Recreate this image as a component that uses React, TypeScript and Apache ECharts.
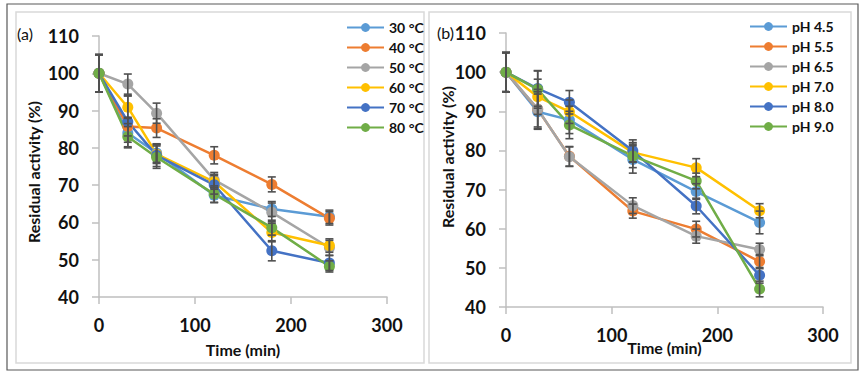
import React, { useEffect, useRef } from "react";
import * as echarts from "echarts";

const times = [0, 30, 60, 120, 180, 240];

const tempNames = ["30 °C", "40 °C", "50 °C", "60 °C", "70 °C", "80 °C"];
const tempValues = [
  [100, 84, 78.6, 67.3, 63.6, 61.5],
  [100, 85.7, 85.3, 78, 70.2, 61.1],
  [100, 97.1, 89.3, 71.4, 62.7, 53.2],
  [100, 90.9, 78.3, 70.9, 57.3, 53.8],
  [100, 87, 78, 70.1, 52.4, 49.1],
  [100, 83, 77.5, 67.6, 58.6, 48.2],
];
const tempErrors = [
  [5, 2.5, 2.5, 2, 2, 1.8],
  [5, 2.5, 2.5, 2.3, 2, 1.8],
  [5, 2.7, 2.7, 2, 2.5, 2],
  [5, 3, 2.5, 2, 2.5, 1.8],
  [5, 7, 3, 2.5, 2.7, 2],
  [5, 2.7, 3, 2.2, 2, 1.5],
];

const phNames = ["pH 4.5", "pH 5.5", "pH 6.5", "pH 7.0", "pH 8.0", "pH 9.0"];
const phValues = [
  [100, 89.9, 87.8, 77.7, 69.5, 61.6],
  [100, 90.5, 78.5, 64.5, 59.9, 51.6],
  [100, 90.6, 78.4, 65.9, 58.1, 54.7],
  [100, 93.7, 89.9, 79.5, 75.6, 64.6],
  [100, 95.8, 92.3, 79.9, 65.8, 48.1],
  [100, 95.6, 86.5, 78.6, 72.2, 44.6],
];
const phErrors = [
  [5, 4.5, 3.5, 3.5, 2, 2.9],
  [5, 4.5, 2.5, 1.8, 2, 1.8],
  [5, 5, 2.5, 2, 1.8, 1.6],
  [5, 4.5, 3, 2.5, 2.3, 1.8],
  [5, 4.5, 3, 2.8, 2, 2],
  [5, 4.8, 3.5, 3, 2, 2],
];

const colors = ["#5B9BD5", "#ED7D31", "#A5A5A5", "#FFC000", "#4472C4", "#70AD47"];
const yTicks = { min: 40, max: 110, interval: 10 };
const xTicks = { min: 0, max: 300, interval: 100 };

const FONT = "Lato";

function errRender(params: any, api: any) {
  const x = api.value(0);
  const lo = api.value(1);
  const hi = api.value(2);
  const p1 = api.coord([x, lo]);
  const p2 = api.coord([x, hi]);
  const w = 4;
  const st = { stroke: "#505050", lineWidth: 1.6 };
  return {
    type: "group",
    children: [
      { type: "line", shape: { x1: p1[0], y1: p1[1], x2: p2[0], y2: p2[1] }, style: st },
      { type: "line", shape: { x1: p1[0] - w, y1: p1[1], x2: p1[0] + w, y2: p1[1] }, style: st },
      { type: "line", shape: { x1: p2[0] - w, y1: p2[1], x2: p2[0] + w, y2: p2[1] }, style: st },
    ],
  };
}

function axisPair(idx: number, labelMargin: number, xNameGap: number) {
  const axisLine = { show: true, lineStyle: { color: "#BFBFBF", width: 1.5 } };
  const axisTick = { show: true, length: 7, lineStyle: { color: "#BFBFBF", width: 1.5 } };
  const labelStyle = { fontFamily: FONT, fontWeight: "bold" as const, fontSize: 18, color: "#111111" };
  return {
    x: {
      type: "value",
      gridIndex: idx,
      min: xTicks.min,
      max: xTicks.max,
      interval: xTicks.interval,
      axisLine,
      axisTick,
      splitLine: { show: false },
      axisLabel: { ...labelStyle, margin: 19 },
      name: "Time (min)",
      nameLocation: "middle",
      nameGap: xNameGap,
      nameMoveOverlap: false,
      nameTextStyle: { fontFamily: FONT, fontWeight: "bold", fontSize: 16, color: "#111111" },
    },
    y: {
      type: "value",
      gridIndex: idx,
      min: yTicks.min,
      max: yTicks.max,
      interval: yTicks.interval,
      axisLine,
      axisTick,
      splitLine: { show: false },
      axisLabel: { ...labelStyle, margin: labelMargin },
    },
  };
}

function buildSeries(names: string[], values: number[][], errors: number[][], idx: number) {
  const out: any[] = [];
  names.forEach((n, i) => {
    out.push({
      type: "line",
      name: n,
      xAxisIndex: idx,
      yAxisIndex: idx,
      data: times.map((t, j) => [t, values[i][j]]),
      symbol: "circle",
      symbolSize: 11,
      lineStyle: { color: colors[i], width: 2.5 },
      itemStyle: { color: colors[i] },
      z: 2,
    });
  });
  names.forEach((n, i) => {
    out.push({
      type: "custom",
      name: n + " err",
      xAxisIndex: idx,
      yAxisIndex: idx,
      renderItem: errRender,
      encode: { x: 0, y: [1, 2] },
      data: times.map((t, j) => [t, values[i][j] - errors[i][j], values[i][j] + errors[i][j]]),
      z: 3,
      silent: true,
    });
  });
  return out;
}

export default function App() {
  const ref = useRef<HTMLDivElement>(null);
  useEffect(() => {
    document.body.style.margin = "0";
    if (!ref.current) return;
    const chart = echarts.init(ref.current, null, { renderer: "svg" });
    const a = axisPair(0, 20, 44);
    const b = axisPair(1, 20, 32);
    const legendBase = {
      orient: "vertical",
      itemWidth: 37,
      itemHeight: 11,
      itemGap: 5,
      textStyle: { fontFamily: FONT, fontWeight: "bold", fontSize: 14, color: "#111111", lineHeight: 15 },
    };
    const nameStyle = { fontFamily: FONT, fontWeight: "bold", fontSize: 16, fill: "#111111" };
    chart.setOption({
      animation: false,
      backgroundColor: "#ffffff",
      grid: [
        { left: 99, top: 36, width: 288, height: 261 },
        { left: 506, top: 33, width: 317, height: 274 },
      ],
      xAxis: [a.x, b.x],
      yAxis: [a.y, b.y],
      legend: [
        { ...legendBase, data: tempNames, left: 341, top: 15 },
        { ...legendBase, data: phNames, left: 744, top: 14 },
      ],
      graphic: [
        { type: "rect", shape: { x: 7, y: 4, width: 851, height: 366 }, style: { fill: "none", stroke: "#595959", lineWidth: 1.2 }, z: 0 },
        { type: "rect", shape: { x: 16, y: 12, width: 408, height: 351 }, style: { fill: "none", stroke: "#D9D9D9", lineWidth: 1.5 }, z: 0 },
        { type: "rect", shape: { x: 429, y: 12, width: 422, height: 351 }, style: { fill: "none", stroke: "#D9D9D9", lineWidth: 1.5 }, z: 0 },
        { type: "text", x: 17, y: 33, style: { text: "(a)", fontFamily: FONT, fontSize: 16, fill: "#111111", textVerticalAlign: "middle" } },
        { type: "text", x: 437, y: 32, style: { text: "(b)", fontFamily: FONT, fontSize: 16, fill: "#111111", textVerticalAlign: "middle" } },
        { type: "text", x: 33, y: 172, rotation: Math.PI / 2, style: { text: "Residual activity (%)", ...nameStyle, textAlign: "center", textVerticalAlign: "middle" } },
        { type: "text", x: 447, y: 157, rotation: Math.PI / 2, style: { text: "Residual activity (%)", ...nameStyle, textAlign: "center", textVerticalAlign: "middle" } },
      ],
      series: [
        ...buildSeries(tempNames, tempValues, tempErrors, 0),
        ...buildSeries(phNames, phValues, phErrors, 1),
      ],
    });
    return () => chart.dispose();
  }, []);
  return <div ref={ref} style={{ width: 867, height: 382 }} />;
}
